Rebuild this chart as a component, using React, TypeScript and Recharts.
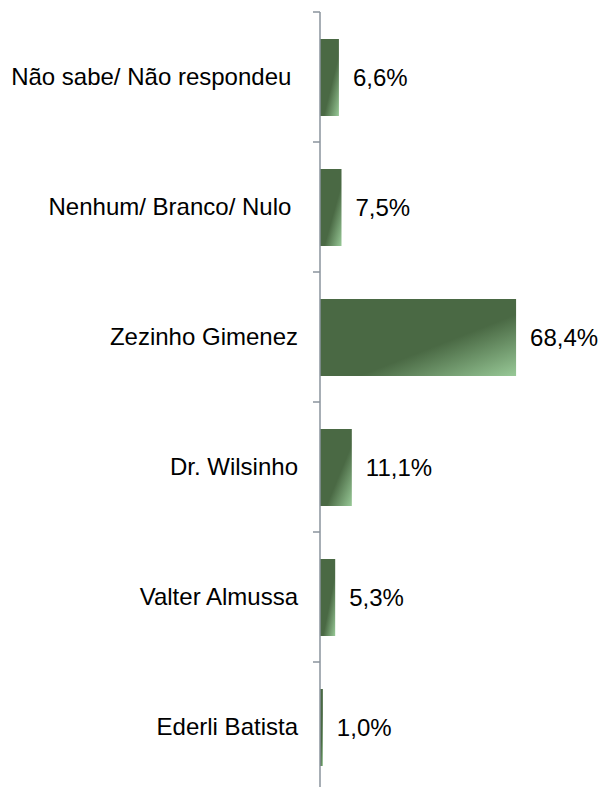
import React from 'react';
import { BarChart, Bar, XAxis, YAxis, LabelList } from 'recharts';

const categories = [
  'Não sabe/ Não respondeu ',
  'Nenhum/ Branco/ Nulo ',
  'Zezinho Gimenez',
  'Dr. Wilsinho',
  'Valter Almussa',
  'Ederli Batista',
];
const values = [6.6, 7.5, 68.4, 11.1, 5.3, 1.0];

const data = categories.map((name, i) => ({ name, value: values[i] }));

const FONT = '"Liberation Sans", Arial, sans-serif';
const AXIS_COLOR = '#8a939c';

const CategoryTick = (props: any) => {
  const { x, y, payload, index, visibleTicksCount, height } = props;
  const count = visibleTicksCount || categories.length;
  const band = height && count ? height / count : 130;
  const lx2 = x + 22;
  const lx1 = x + 15;
  return (
    <g>
      <line x1={lx1} x2={lx2} y1={y - band / 2} y2={y - band / 2} stroke={AXIS_COLOR} strokeWidth={1.5} />
      {index === count - 1 && (
        <line x1={lx1} x2={lx2} y1={y + band / 2} y2={y + band / 2} stroke={AXIS_COLOR} strokeWidth={1.5} />
      )}
      <text
        x={x}
        y={y}
        dy="0.35em"
        textAnchor="end"
        xmlSpace="preserve"
        style={{ whiteSpace: 'pre' }}
        fontFamily={FONT}
        fontSize={24}
        fill="#000"
      >
        {payload.value}
      </text>
    </g>
  );
};

const fmt = (v: number) => v.toFixed(1).replace('.', ',') + '%';

export default function App() {
  return (
    <div style={{ width: 593, height: 779, paddingTop: 8, paddingLeft: 8, overflow: 'hidden' }}>
      <style>{`html, body { margin: 0; overflow: hidden; } .recharts-wrapper, .recharts-surface { overflow: visible !important; }`}</style>
      <BarChart
        width={593}
        height={779}
        data={data}
        layout="vertical"
        margin={{ top: 4, right: 23, bottom: -5, left: 0 }}
        barSize={77}
      >
        <defs>
          <linearGradient id="barGrad" x1="0" y1="0" x2="1" y2="1">
            <stop offset="0" stopColor="#4a6944" />
            <stop offset="0.6" stopColor="#4a6944" />
            <stop offset="1" stopColor="#98c997" />
          </linearGradient>
        </defs>
        <XAxis type="number" domain={[0, 90]} hide />
        <YAxis
          type="category"
          dataKey="name"
          width={312}
          axisLine={{ stroke: AXIS_COLOR, strokeWidth: 1.5 }}
          tickLine={false}
          tickSize={7}
          tickMargin={15}
          tick={<CategoryTick />}
          interval={0}
        />
        <Bar dataKey="value" fill="url(#barGrad)" isAnimationActive={false}>
          <LabelList
            dataKey="value"
            position="right"
            offset={14}
            formatter={fmt}
            style={{ fontFamily: FONT, fontSize: 24, fill: '#000' }}
          />
        </Bar>
      </BarChart>
    </div>
  );
}
